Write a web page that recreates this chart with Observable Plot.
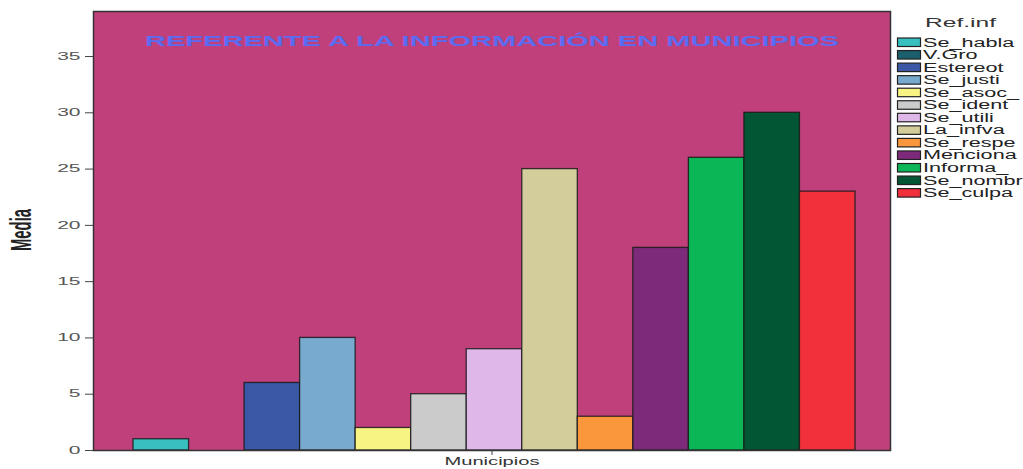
<!DOCTYPE html>
<html><head><meta charset="utf-8">
<script src="https://cdn.jsdelivr.net/npm/d3@7"></script>
<script src="https://cdn.jsdelivr.net/npm/@observablehq/plot@0.6"></script>
<style>
body{margin:0;background:#fff}
#wrap{position:relative;width:1023px;height:469px;overflow:hidden}
</style>
</head><body><div id="wrap"></div>
<script>
const categorias = ["Se_habla","V.Gro","Estereot","Se_justi","Se_asoc_","Se_ident","Se_utili","La_infva","Se_respe","Menciona","Informa_","Se_nombr","Se_culpa"];
const medias = [1, null, 6, 10, 2, 5, 9, 25, 3, 18, 26, 30, 23];
const colores = ["#38C0C0","#1B5E6C","#3A58A6","#78AACF","#F8F484","#CBCBCB","#DFB7E8","#D3CC9B","#FA963C","#7D2A7B","#0BB657","#025633","#F2303C"];
const grupos = ["Municipios"];
const yTicks = [0, 5, 10, 15, 20, 25, 30, 35];
const titulo = "REFERENTE A LA INFORMACIÓN EN MUNICIPIOS";
const etiquetaY = "Media";
const tituloLeyenda = "Ref.inf";
const fondo = "#BF407B";

const datos = categorias.map((c, i) => ({grupo: grupos[0], ref: c, media: medias[i]}));

const plot = Plot.plot({
  width: 1023, height: 469,
  marginLeft: 93, marginRight: 133, marginTop: 11, marginBottom: 19,
  style: {fontFamily: "'Liberation Sans', Arial, sans-serif", fontSize: "10px", background: "transparent", color: "#444"},
  facet: {data: datos, x: "grupo"},
  fx: {domain: grupos, padding: 0, round: false, label: null, tickSize: 5, tickPadding: 2},
  x: {domain: categorias, padding: 0, round: false, insetLeft: 40, insetRight: 35, axis: null},
  y: {domain: [0, 39], ticks: yTicks, tickSize: 8, tickPadding: 5, label: null},
  color: {domain: categorias, range: colores},
  marks: [
    Plot.frame({fill: fondo}),
    Plot.barY(datos, {x: "ref", y: "media", fill: "ref", stroke: "#1a1a1a", strokeWidth: 1.3, strokeOpacity: 0.85}),
    Plot.text([titulo], {frameAnchor: "top", lineAnchor: "middle", dy: 30, text: d => d, fill: "#5B6BF2", fontWeight: "bold", fontSize: 15}),
    Plot.text([etiquetaY], {frameAnchor: "left", lineAnchor: "middle", dx: -72, dy: 20, rotate: -90, text: d => d, fontWeight: "bold", fontSize: 30, fill: "#222"}),
    Plot.frame({stroke: "#333", strokeWidth: 1.5})
  ]
});
const wrap = document.getElementById("wrap");
plot.style.position = "absolute";
plot.style.left = "0px";
plot.style.top = "0px";
wrap.appendChild(plot);

function stretch(el, target) {
  el.setAttribute("textLength", target);
  el.setAttribute("lengthAdjust", "spacingAndGlyphs");
}
plot.querySelectorAll("text").forEach(t => {
  const s = t.textContent.trim();
  if (/^\d+$/.test(s)) {
    t.setAttribute("fill", "#555");
    stretch(t, t.getComputedTextLength() * 2.1);
  } else if (s === grupos[0]) {
    t.setAttribute("fill", "#333");
    t.setAttribute("font-size", "11px");
    stretch(t, 95);
  } else if (s === titulo) {
    stretch(t, 694);
  } else if (s === etiquetaY) {
    t.setAttribute("font-size", "30px");
    t.setAttribute("font-weight", "bold");
    stretch(t, 42);
  }
});

// Leyenda
const esc = plot.scale("color");
const mapa = new Map(esc.domain.map((d, i) => [d, esc.range[i]]));
const leg = d3.select(wrap).append("svg")
  .attr("width", 133).attr("height", 210)
  .style("position", "absolute").style("left", "890px").style("top", "0px")
  .style("font-family", "'Liberation Sans', Arial, sans-serif");
const tl = leg.append("text").attr("x", 35).attr("y", 27).attr("font-size", 13).attr("fill", "#333").text(tituloLeyenda);
stretch(tl.node(), 71);
const filas = leg.selectAll("g.fila").data(esc.domain).join("g").attr("class", "fila")
  .attr("transform", (d, i) => `translate(0,${42 + i * 12.55})`);
filas.append("rect").attr("x", 7.5).attr("y", -4).attr("width", 23).attr("height", 8.5)
  .attr("fill", d => mapa.get(d)).attr("stroke", "#222").attr("stroke-width", 1.2);
filas.append("text").attr("x", 33).attr("y", 4.5).attr("font-size", 12).attr("fill", "#222")
  .text(d => d)
  .each(function() { stretch(this, this.getComputedTextLength() * 1.8); });
</script>
</body></html>
